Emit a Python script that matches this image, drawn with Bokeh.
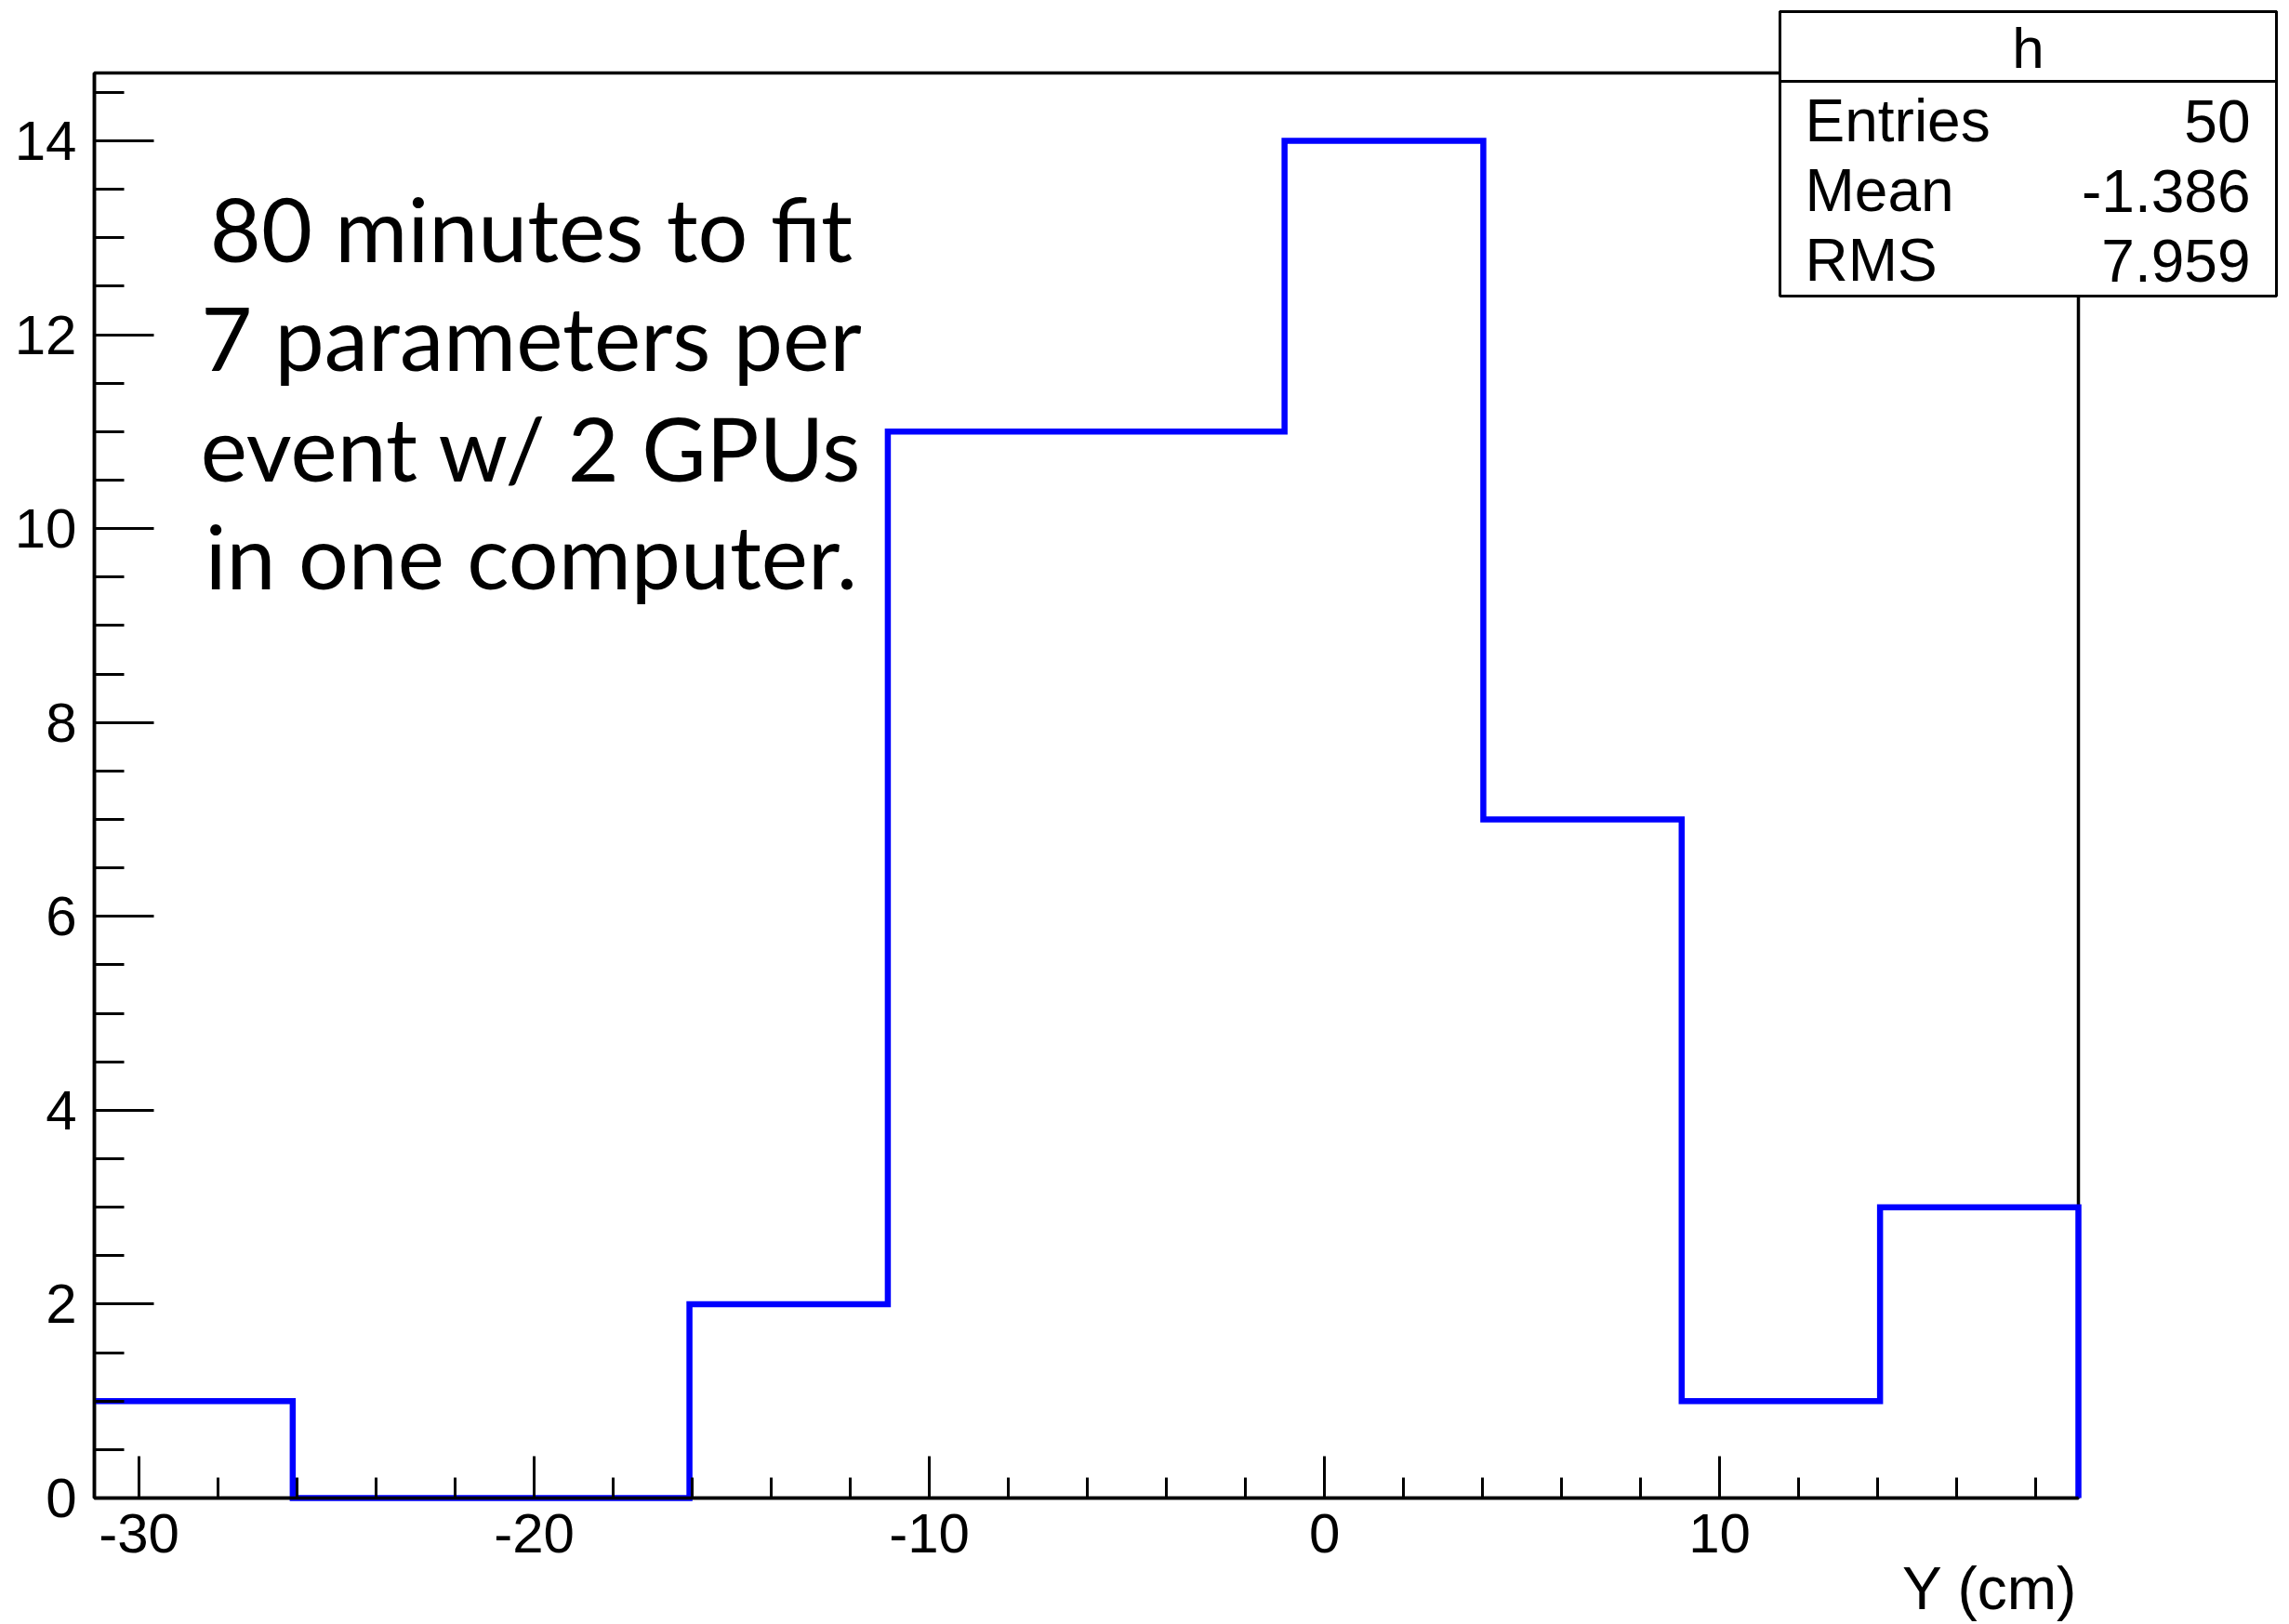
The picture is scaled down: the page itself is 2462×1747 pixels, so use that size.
from bokeh.plotting import figure
from bokeh.models import Range1d, SingleIntervalTicker, Label, BoxAnnotation, CustomJSTickFormatter
from bokeh.embed import file_html
from bokeh.resources import INLINE

# ---- data ----
bin_edges = [-31.13, -26.11, -21.09, -16.07, -11.05, -6.03, -1.01, 4.02, 9.04, 14.06, 19.08]
counts = [1, 0, 0, 2, 11, 11, 14, 7, 1, 3]
stats_names = ["Entries", "Mean", "RMS"]
stats_values = ["50", "-1.386", "7.959"]
note_lines = ["80 minutes to fit", "7 parameters per", "event w/ 2 GPUs", "in one computer."]
x_title = "Y (cm)"
hist_name = "h"

W, H = 2462, 1747
FL, FR, FT, FB = 101, 2235, 78, 1611          # visible frame in page pixels
XMIN, XMAX = bin_edges[0], bin_edges[-1]
YMAX = max(counts) * 1.05
SX = (XMAX - XMIN) / (FR - FL)
SY = YMAX / (FB - FT)


def X(px):
    return XMIN + (px - FL) * SX


def Y(py):
    return (FB - py) * SY


# plot area spans the whole canvas; axes are pinned to the visible frame
p = figure(width=W, height=H, x_range=Range1d(X(0), X(W)), y_range=Range1d(Y(H), Y(0)),
           output_backend="svg", toolbar_location=None, min_border=0,
           min_border_left=0, min_border_right=0, min_border_top=0, min_border_bottom=0)
p.grid.visible = False
p.background_fill_color = "white"
p.border_fill_color = "white"
p.outline_line_color = None

FONT = "Liberation Sans"
xa = p.xaxis[0]
xa.ticker = SingleIntervalTicker(interval=10, num_minor_ticks=5)
xa.fixed_location = 0
xa.bounds = (XMIN, XMAX)
xa.major_tick_in = 45
xa.major_tick_out = 0
xa.minor_tick_in = 22
xa.minor_tick_out = 0
ya = p.yaxis[0]
ya.ticker = SingleIntervalTicker(interval=2, num_minor_ticks=4)
ya.fixed_location = XMIN
ya.bounds = (0, YMAX)
ya.major_tick_in = 64
ya.major_tick_out = 0
ya.minor_tick_in = 32
ya.minor_tick_out = 0
for ax in (xa, ya):
    ax.formatter = CustomJSTickFormatter(code="return tick.toString()")
    ax.axis_line_color = "black"
    ax.axis_line_width = 3.5
    ax.major_tick_line_color = "black"
    ax.major_tick_line_width = 3
    ax.minor_tick_line_color = "black"
    ax.minor_tick_line_width = 3
    ax.major_label_text_font = FONT
    ax.major_label_text_font_size = "60px"
    ax.major_label_text_color = "black"
xa.major_label_standoff = 17
ya.major_label_standoff = 19

# frame (top / right sides), under the histogram
frame = BoxAnnotation(left=XMIN, right=XMAX, bottom=0, top=YMAX, fill_alpha=0,
                      line_color="black", line_alpha=1, line_width=3.5, level="underlay")
p.add_layout(frame)

# histogram outline
step_y = counts + [0]
p.step(x=bin_edges, y=step_y, mode="after", line_color="#0000ff", line_width=6.5, line_join="miter")

LATO_MID = 0.39
LIB_MID = 0.35

# note text
note_size = 95
note_baselines = [282, 399, 518, 634]
for t, by in zip(note_lines, note_baselines):
    p.add_layout(Label(x=X(571), y=Y(by - LATO_MID * note_size), text=t, text_align="center",
                       text_baseline="middle", text_font="Lato", text_font_size=f"{note_size}px",
                       text_color="black"))

# x title
p.add_layout(Label(x=X(2234), y=Y(1731 - LIB_MID * 64), text=x_title, text_align="right",
                   text_baseline="middle", text_font=FONT, text_font_size="64px", text_color="black"))

# stats box
p.add_layout(BoxAnnotation(left=X(1914), right=X(2448), top=Y(12), bottom=Y(318),
                           fill_color="white", fill_alpha=1, line_color="black", line_alpha=1, line_width=3))
p.add_layout(BoxAnnotation(left=X(1914), right=X(2448), top=Y(12), bottom=Y(87),
                           fill_alpha=0, line_color="black", line_alpha=1, line_width=3))
p.add_layout(Label(x=X(2181), y=Y(73 - LIB_MID * 62), text=hist_name, text_align="center",
                   text_baseline="middle", text_font=FONT, text_font_size="62px", text_color="black"))
for name, val, by in zip(stats_names, stats_values, [152, 227, 302]):
    p.add_layout(Label(x=X(1941), y=Y(by - LIB_MID * 64), text=name, text_align="left",
                       text_baseline="middle", text_font=FONT, text_font_size="64px", text_color="black"))
    p.add_layout(Label(x=X(2420), y=Y(by - LIB_MID * 64), text=val, text_align="right",
                       text_baseline="middle", text_font=FONT, text_font_size="64px", text_color="black"))

open("out.html", "w").write(file_html(p, INLINE))
